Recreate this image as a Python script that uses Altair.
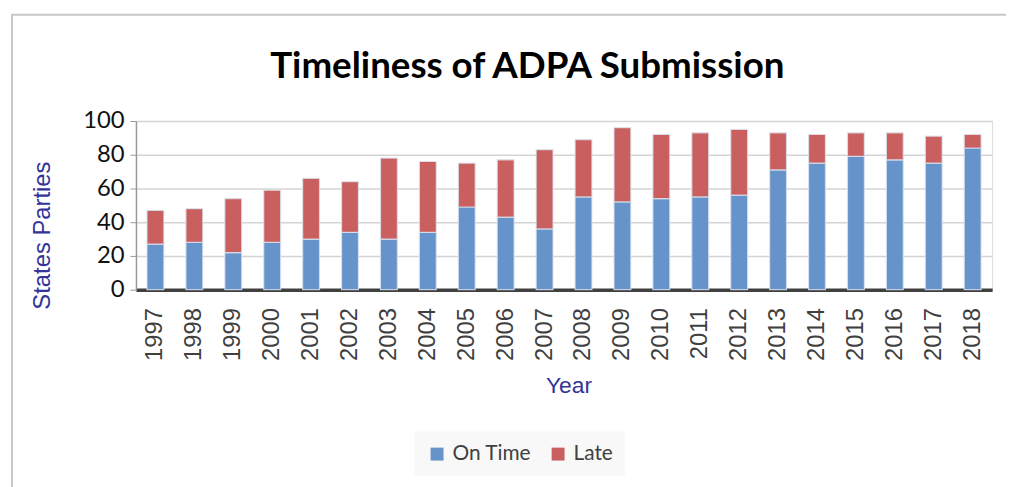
import altair as alt
import pandas as pd

years = [str(y) for y in range(1997, 2019)]
on_time = [27, 28, 22, 28, 30, 34, 30, 34, 49, 43, 36, 55, 52, 54, 55, 56, 71, 75, 79, 77, 75, 84]
total = [47, 48, 54, 59, 66, 64, 78, 76, 75, 77, 83, 89, 96, 92, 93, 95, 93, 92, 93, 93, 91, 92]
late = [t - o for t, o in zip(total, on_time)]
series = ["On Time", "Late"]
colors = ["#6693c9", "#c9605f"]

rows = []
for y, o, l in zip(years, on_time, late):
    rows.append({"Year": y, "Status": "On Time", "Value": o, "order": 0})
    rows.append({"Year": y, "Status": "Late", "Value": l, "order": 1})
df = pd.DataFrame(rows)

frame = alt.Chart(pd.DataFrame({"k": [0]})).mark_rect(
    fill=None, stroke="#c8c8c8", strokeWidth=2
).encode(x=alt.value(-125), x2=alt.value(900), y=alt.value(-107), y2=alt.value(400))

bars = alt.Chart(df).mark_bar(
    stroke="#dbe4f0", strokeWidth=1.2, strokeOpacity=0.8, size=17
).encode(
    x=alt.X("Year:N", sort=years, title="Year",
            axis=alt.Axis(labelAngle=-90, labelFont="Liberation Sans", labelFontSize=24,
                          labelColor="#404040", labelPadding=18, labelBaseline="middle",
                          ticks=False, domainColor="#404040", domainWidth=3.5,
                          titleFont="Liberation Sans", titleFontSize=23, titleFontWeight="normal",
                          titleColor="#333399", titleX=436, titleY=97,
                          titleBaseline="middle", titleAlign="center")),
    y=alt.Y("Value:Q", stack="zero", scale=alt.Scale(domain=[0, 100]),
            title="States Parties",
            axis=alt.Axis(values=[0, 20, 40, 60, 80, 100], labelFont="Lato", labelFontSize=24,
                          labelColor="#111111", labelPadding=6, tickSize=6, tickColor="#999999",
                          domainColor="#999999", domainWidth=1.5, gridColor="#d4d4d4", gridWidth=1.5,
                          titleFont="Liberation Sans", titleFontSize=24, titleFontWeight="normal",
                          titleColor="#333399", titleX=-94, titleY=115, titleAngle=-90,
                          titleBaseline="middle", titleAlign="center")),
    color=alt.Color("Status:N", sort=series,
                    scale=alt.Scale(domain=series, range=colors),
                    legend=alt.Legend(title=None, orient="none", direction="horizontal",
                                      legendX=281, legendY=313, fillColor="#f8f8f8",
                                      padding=12, symbolType="square", symbolSize=170,
                                      symbolStrokeWidth=0, labelFont="Lato", labelFontSize=21,
                                      labelColor="#404040", columnPadding=16, labelOffset=5,
                                      symbolOpacity=1)),
    order=alt.Order("order:Q"),
)

chart = alt.layer(frame, bars).properties(
    width=863, height=170,
    autosize="none",
    padding={"left": 129, "top": 112, "right": 14, "bottom": 197},
    title=alt.TitleParams("Timeliness of ADPA Submission", font="Lato", fontSize=37,
                          fontWeight="bold", color="#000000", dx=-37, dy=111, offset=38,
                          anchor="middle"),
).configure_view(stroke=None).configure(background="white")

chart.save("out.html", embed_options={"renderer": "svg", "actions": False})
